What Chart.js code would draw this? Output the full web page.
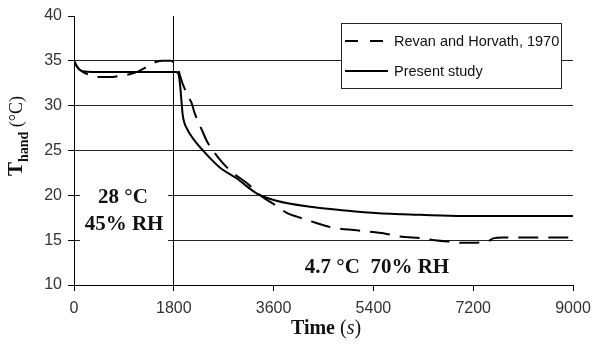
<!DOCTYPE html>
<html>
<head>
<meta charset="utf-8">
<script src="https://cdn.jsdelivr.net/npm/chart.js@4.4.1/dist/chart.umd.min.js"></script>
<style>
  html, body { margin: 0; padding: 0; background: #fff; }
  #wrap { width: 592px; height: 349px; }
</style>
</head>
<body>
<div id="wrap"><canvas id="chart" width="592" height="349"></canvas></div>
<script>
'use strict';

// series (time in s, hand temperature in °C)
var presentTime = [0, 40, 100, 200, 400, 1000, 1700, 1845, 1890, 1915, 1940, 1960, 1990, 2040, 2085, 2200, 2325, 2630, 2930, 3300, 3650, 4300, 4900, 5500, 5930, 6900, 9000];
var presentTemp = [35, 34.5, 34.0, 33.8, 33.75, 33.75, 33.75, 33.75, 33.4, 32.2, 30.4, 29.0, 28.1, 27.4, 26.9, 25.9, 25.0, 23.1, 21.9, 20.2, 19.4, 18.7, 18.3, 18.0, 17.9, 17.7, 17.7];

var revanTime = [0, 60, 150, 300, 450, 700, 875, 1000, 1150, 1300, 1490, 1600, 1750, 1800, 1870, 1910, 1950, 1995, 2060, 2120, 2175, 2320, 2400, 2590, 2810, 3170, 3312, 3583, 3854, 4034, 4486, 4666, 5099, 5400, 5640, 5875, 6290, 6507, 6832, 7012, 7445, 7560, 7734, 9000];
var revanTemp = [35, 34.3, 33.8, 33.4, 33.2, 33.2, 33.4, 33.5, 33.8, 34.3, 34.9, 35.0, 35.0, 34.8, 34.2, 33.4, 32.6, 31.9, 31.0, 30.3, 29.2, 27.1, 26.0, 24.3, 22.8, 21.1, 20.2, 19.1, 18.0, 17.6, 16.7, 16.4, 16.1, 15.9, 15.7, 15.4, 15.2, 15.0, 14.8, 14.7, 14.8, 15.2, 15.3, 15.3];

var seriesNames = ['Revan and Horvath, 1970', 'Present study'];
var xTicks = [0, 1800, 3600, 5400, 7200, 9000];
var yTicks = [10, 15, 20, 25, 30, 35, 40];

function toPoints(xs, ys) {
  return xs.map(function (x, i) { return { x: x, y: ys[i] }; });
}

var serif = '"Liberation Serif", "DejaVu Serif", serif';
var sans = '"Liberation Sans", Arial, sans-serif';

// axis titles, condition notes and legend are drawn by hand
var annotations = {
  id: 'annotations',
  beforeDatasetsDraw: function (chart) {
    var ctx = chart.ctx;
    ctx.save();
    // white patch behind the ambient conditions note
    ctx.fillStyle = '#fff';
    ctx.fillRect(80, 184, 88, 60);
    ctx.fillStyle = '#111';
    ctx.textAlign = 'center';
    ctx.textBaseline = 'alphabetic';
    ctx.font = 'bold 21px ' + serif;
    ctx.fillText('28 °C', 123, 203);
    ctx.fillText('45% RH', 124, 230);
    ctx.fillText('4.7 °C  70% RH', 377, 273);
    ctx.restore();
  },
  afterDraw: function (chart) {
    var ctx = chart.ctx;
    ctx.save();
    ctx.fillStyle = '#111';
    ctx.textBaseline = 'alphabetic';

    // x title: Time (s)
    var parts = [
      { t: 'Time', f: 'bold 20px ' + serif },
      { t: ' (', f: '20px ' + serif },
      { t: 's', f: 'italic 20px ' + serif },
      { t: ')', f: '20px ' + serif }
    ];
    var total = 0;
    parts.forEach(function (p) { ctx.font = p.f; p.w = ctx.measureText(p.t).width; total += p.w; });
    var x = 326 - total / 2;
    ctx.textAlign = 'left';
    parts.forEach(function (p) { ctx.font = p.f; ctx.fillText(p.t, x, 334); x += p.w; });

    // y title: T_hand (°C), rotated
    var yparts = [
      { t: 'T', f: 'bold 21px ' + serif, dy: 0 },
      { t: 'hand', f: 'bold 14px ' + serif, dy: 6 },
      { t: ' (°C)', f: '18px ' + serif, dy: 0 }
    ];
    total = 0;
    yparts.forEach(function (p) { ctx.font = p.f; p.w = ctx.measureText(p.t).width; total += p.w; });
    ctx.translate(22, 136);
    ctx.rotate(-Math.PI / 2);
    x = -total / 2;
    yparts.forEach(function (p) { ctx.font = p.f; ctx.fillText(p.t, x, p.dy); x += p.w; });
    ctx.restore();

    // legend box
    ctx.save();
    ctx.fillStyle = '#fff';
    ctx.fillRect(341, 23, 220, 65);
    ctx.strokeStyle = '#222';
    ctx.lineWidth = 1;
    ctx.strokeRect(341.5, 23.5, 220, 65);
    var rows = [41, 71];
    chart.data.datasets.forEach(function (ds, i) {
      ctx.strokeStyle = '#000';
      ctx.lineWidth = 2;
      ctx.setLineDash(i === 0 ? [13, 12] : []);
      ctx.beginPath();
      ctx.moveTo(345, rows[i]);
      ctx.lineTo(388, rows[i]);
      ctx.stroke();
      ctx.setLineDash([]);
      ctx.fillStyle = '#111';
      ctx.font = '14.5px ' + sans;
      ctx.textAlign = 'left';
      ctx.textBaseline = 'middle';
      ctx.fillText(ds.label, 394, rows[i] + 1);
    });
    ctx.restore();
  }
};

var plainLabel = function (v) { return String(v); };

var ctx = document.getElementById('chart').getContext('2d');
new Chart(ctx, {
  type: 'scatter',
  data: {
    datasets: [
      {
        label: seriesNames[0],
        data: toPoints(revanTime, revanTemp),
        showLine: true,
        borderColor: '#000',
        borderWidth: 2,
        borderDash: [20, 10],
        pointRadius: 0,
        cubicInterpolationMode: 'monotone'
      },
      {
        label: seriesNames[1],
        data: toPoints(presentTime, presentTemp),
        showLine: true,
        borderColor: '#000',
        borderWidth: 2,
        pointRadius: 0,
        cubicInterpolationMode: 'monotone'
      }
    ]
  },
  options: {
    responsive: false,
    animation: false,
    layout: { padding: { left: 0, top: 16, right: 19, bottom: 0 } },
    plugins: {
      legend: { display: false },
      tooltip: { enabled: false }
    },
    scales: {
      x: {
        type: 'linear',
        min: 0,
        max: 9000,
        afterBuildTicks: function (scale) {
          scale.ticks = xTicks.map(function (v) { return { value: v }; });
        },
        afterFit: function (scale) {
          scale.height = 64;
          // the last label fits in the right margin, keep the plot edge at 9000 = x 573
          scale.paddingLeft = 0;
          scale.paddingRight = 0;
        },
        ticks: {
          color: '#333',
          font: { family: sans, size: 16 },
          padding: 8,
          maxRotation: 0,
          callback: plainLabel
        },
        grid: {
          // only the 1800 s line crosses the plot
          color: function (c) { return c.tick && c.tick.value === 1800 ? '#000' : 'rgba(0,0,0,0)'; },
          tickColor: '#000',
          tickLength: 6,
          lineWidth: 1
        },
        border: { display: true, color: '#000', width: 1 }
      },
      y: {
        type: 'linear',
        min: 10,
        max: 40,
        afterBuildTicks: function (scale) {
          scale.ticks = yTicks.map(function (v) { return { value: v }; });
        },
        afterFit: function (scale) { scale.width = 74; },
        ticks: {
          color: '#333',
          font: { family: sans, size: 16 },
          padding: 6,
          callback: plainLabel
        },
        grid: {
          color: function (c) { return c.tick && c.tick.value === 40 ? 'rgba(0,0,0,0)' : '#222'; },
          tickColor: '#000',
          tickLength: 6,
          lineWidth: 1
        },
        border: { display: true, color: '#000', width: 1 }
      }
    }
  },
  plugins: [annotations]
});
</script>
</body>
</html>
